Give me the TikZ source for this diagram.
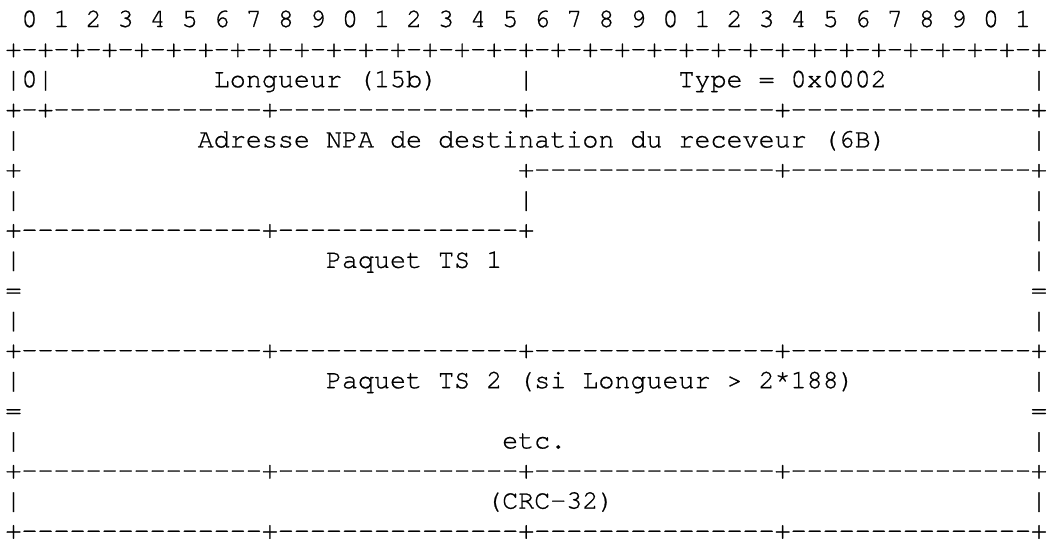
\documentclass[tikz,border=0pt]{standalone}
\usepackage{fontspec}
\setmonofont{texgyrecursor-regular.otf}[FakeBold=0.8]
\newcommand\rowtxt[4]{\node[txt] (#1) at ({4.125pt+#2*12.017pt},{-20.25pt-(#3-1)*22.575pt}) {#4};}
\begin{document}
\begin{tikzpicture}[
  txt/.style={anchor=base west, inner sep=0pt, outer sep=0pt,
    font=\ttfamily\fontsize{20.03pt}{22.5pt}\selectfont, text=black}]
\useasboundingbox[fill=white] (0,0) rectangle (785.25pt,-404.25pt);
% row 1
\rowtxt{bits}{1}{1}{0 1 2 3 4 5 6 7 8 9 0 1 2 3 4 5 6 7 8 9 0 1 2 3 4 5 6 7 8 9 0 1}
% row 2
\rowtxt{r2}{0}{2}{+-+-+-+-+-+-+-+-+-+-+-+-+-+-+-+-+-+-+-+-+-+-+-+-+-+-+-+-+-+-+-+-+}
% row 3
\rowtxt{r3a}{0}{3}{|0|}
\rowtxt{r3b}{13}{3}{Longueur (15b)}
\rowtxt{r3c}{32}{3}{|}
\rowtxt{r3d}{42}{3}{Type = 0x0002}
\rowtxt{r3e}{64}{3}{|}
% row 4
\rowtxt{r4}{0}{4}{+-+-------------+---------------+---------------+---------------+}
% row 5
\rowtxt{r5a}{0}{5}{|}
\rowtxt{r5b}{12}{5}{Adresse NPA de destination du receveur (6B)}
\rowtxt{r5c}{64}{5}{|}
% row 6
\rowtxt{r6a}{0}{6}{+}
\rowtxt{r6b}{32}{6}{+---------------+---------------+}
% row 7
\rowtxt{r7a}{0}{7}{|}
\rowtxt{r7b}{32}{7}{|}
\rowtxt{r7c}{64}{7}{|}
% row 8
\rowtxt{r8a}{0}{8}{+---------------+---------------+}
\rowtxt{r8b}{64}{8}{|}
% row 9
\rowtxt{r9a}{0}{9}{|}
\rowtxt{r9b}{20}{9}{Paquet TS 1}
\rowtxt{r9c}{64}{9}{|}
% row 10
\rowtxt{r10a}{0}{10}{=}
\rowtxt{r10b}{64}{10}{=}
% row 11
\rowtxt{r11a}{0}{11}{|}
\rowtxt{r11b}{64}{11}{|}
% row 12
\rowtxt{r12}{0}{12}{+---------------+---------------+---------------+---------------+}
% row 13
\rowtxt{r13a}{0}{13}{|}
\rowtxt{r13b}{20}{13}{Paquet TS 2 (si Longueur > 2*188)}
\rowtxt{r13c}{64}{13}{|}
% row 14
\rowtxt{r14a}{0}{14}{=}
\rowtxt{r14b}{64}{14}{=}
% row 15
\rowtxt{r15a}{0}{15}{|}
\rowtxt{r15b}{31}{15}{etc.}
\rowtxt{r15c}{64}{15}{|}
% row 16
\rowtxt{r16}{0}{16}{+---------------+---------------+---------------+---------------+}
% row 17
\rowtxt{r17a}{0}{17}{|}
\rowtxt{r17b}{30}{17}{(CRC-32)}
\rowtxt{r17c}{64}{17}{|}
% row 18
\rowtxt{r18}{0}{18}{+---------------+---------------+---------------+---------------+}
\end{tikzpicture}
\end{document}
